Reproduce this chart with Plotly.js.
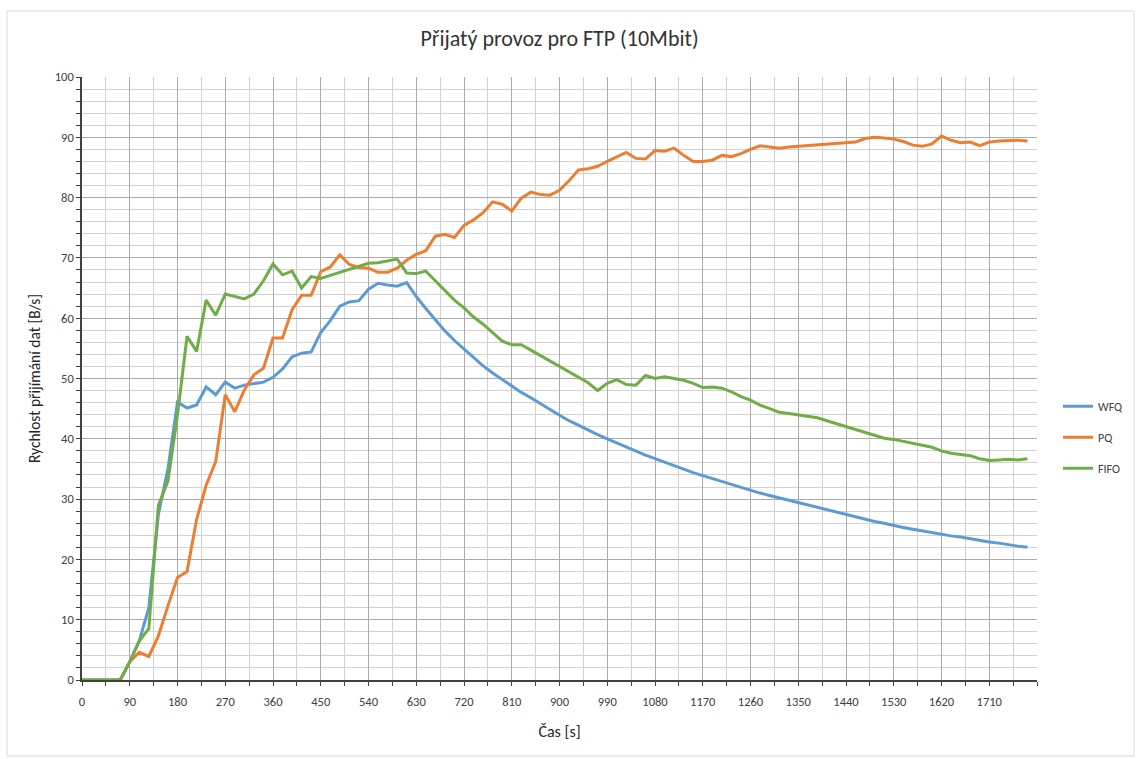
<!DOCTYPE html>
<html>
<head>
<meta charset="utf-8">
<script src="https://cdn.plot.ly/plotly-3.0.1.min.js"></script>
<style>
html,body{margin:0;padding:0;background:#fff;}
#chart{width:1136px;height:759px;}
</style>
</head>
<body>
<div id="chart"></div>
<script>
// Time categories [s]
const time = [0,18,36,54,72,90,108,126,144,162,180,198,216,234,252,270,288,306,324,342,
360,378,396,414,432,450,468,486,504,522,540,558,576,594,612,630,648,666,684,702,
720,738,756,774,792,810,828,846,864,882,900,918,936,954,972,990,1008,1026,1044,1062,
1080,1098,1116,1134,1152,1170,1188,1206,1224,1242,1260,1278,1296,1314,1332,1350,1368,1386,1404,1422,
1440,1458,1476,1494,1512,1530,1548,1566,1584,1602,1620,1638,1656,1674,1692,1710,1728,1746,1764,1782];

const wfq = [0,0,0,0,0,3,6.5,12,27.5,35,46.1,45.1,45.6,48.6,47.3,49.4,48.4,48.9,49.1,49.4,
50.2,51.6,53.6,54.2,54.4,57.6,59.6,62.0,62.7,62.9,64.8,65.8,65.5,65.3,65.9,63.6,61.6,59.7,57.9,56.3,
54.9,53.4,52.1,50.9,49.8,48.7,47.7,46.8,45.8,44.8,43.9,43.0,42.2,41.4,40.7,40.0,39.3,38.6,37.9,37.3,
36.7,36.1,35.5,35.0,34.4,33.9,33.4,32.9,32.4,31.9,31.5,31.0,30.6,30.2,29.8,29.4,29.0,28.6,28.2,27.8,
27.4,27.0,26.7,26.3,26.0,25.6,25.3,25.0,24.7,24.4,24.2,23.9,23.7,23.4,23.2,22.9,22.7,22.4,22.2,22.0];

const pq = [0,0,0,0,0,3,4.6,3.9,7.3,12.3,17,18,26.6,32.3,36.2,47.3,44.5,48.1,50.6,51.7,
56.7,56.7,61.4,63.8,63.8,67.7,68.5,70.5,68.9,68.4,68.3,67.6,67.6,68.3,69.6,70.6,71.2,73.6,73.9,73.4,
75.4,76.3,77.5,79.3,78.9,77.8,79.9,80.9,80.5,80.4,81.2,82.8,84.6,84.8,85.2,86.0,86.7,87.5,86.5,86.4,
87.8,87.7,88.2,87.0,86.0,86.0,86.2,87.0,86.8,87.3,88.0,88.6,88.4,88.2,88.4,88.5,88.7,88.8,88.9,89.0,
89.0,89.2,89.8,90.0,89.9,89.7,89.3,88.7,88.5,88.9,90.2,89.5,89.1,89.2,88.6,89.2,89.4,89.5,89.5,89.4];

const fifo = [0,0,0,0,0,3,6.5,8.5,29,33,44,57,54.5,63,60.5,64,63.6,63.2,64,66.2,
69,67.2,67.8,65,66.9,66.6,67.1,67.6,68.2,68.7,69.1,69.2,69.5,69.8,67.5,67.4,67.8,66.2,64.5,63,
61.7,60.2,59,57.6,56.2,55.6,55.6,54.7,53.8,53.0,52.1,51.2,50.2,49.3,48.0,49.2,49.8,49.0,48.9,50.5,
50.0,50.3,50.0,49.7,49.2,48.5,48.6,48.4,47.8,47.0,46.4,45.6,45.0,44.4,44.2,44.0,43.7,43.5,43.0,42.5,
42.0,41.5,41.0,40.5,40.1,39.9,39.6,39.2,39.0,38.6,38.0,37.6,37.4,37.2,36.7,36.4,36.5,36.6,36.5,36.7];

const seriesNames = ["WFQ", "PQ", "FIFO"];
const xTickLabels = [0,90,180,270,360,450,540,630,720,810,900,990,1080,1170,1260,1350,1440,1530,1620,1710];

const colors = ["#5B9BD5", "#ED7D31", "#70AD47"];
const values = [wfq, pq, fifo];
const FONT = "Carlito, Lato, 'Liberation Sans', sans-serif";

const traces = values.map((v, i) => ({
  type: "scatter",
  mode: "lines",
  x: time,
  y: v,
  name: seriesNames[i],
  legendgroup: seriesNames[i],
  line: {color: colors[i], width: 3},
  hoverinfo: "x+y+name"
}));

const layout = {
  width: 1136,
  height: 759,
  paper_bgcolor: "#ffffff",
  plot_bgcolor: "#ffffff",
  margin: {l: 82, r: 99, t: 77, b: 79, autoexpand: false},
  font: {family: FONT, color: "#404040", size: 12},
  title: {
    text: "Přijatý provoz pro FTP (10Mbit)",
    font: {family: FONT, size: 22, color: "#333333"},
    x: 0.5, xref: "paper", xanchor: "center",
    y: 43, yref: "container", yanchor: "middle"
  },
  xaxis: {
    range: [0, 1800],
    tickmode: "array",
    tickvals: xTickLabels,
    ticktext: xTickLabels.map(String),
    ticks: "outside",
    ticklen: 4,
    tickcolor: "#404040",
    ticklabelstandoff: 5,
    showline: true,
    linecolor: "#404040",
    linewidth: 1.5,
    showgrid: true,
    gridcolor: "#ababab",
    gridwidth: 1,
    zeroline: false,
    tickfont: {family: FONT, size: 12.5, color: "#404040"},
    minor: {dtick: 45, tick0: 0, showgrid: true, gridcolor: "#d2d2d2", ticks: "outside", ticklen: 4, tickcolor: "#404040"},
    title: {text: "Čas [s]", font: {family: FONT, size: 16, color: "#262626"}, standoff: 18}
  },
  yaxis: {
    range: [0, 100],
    dtick: 10,
    tick0: 0,
    ticks: "outside",
    ticklen: 4,
    tickcolor: "#404040",
    showline: true,
    linecolor: "#404040",
    linewidth: 1.5,
    showgrid: true,
    gridcolor: "#ababab",
    zeroline: false,
    tickfont: {family: FONT, size: 12.5, color: "#404040"},
    minor: {dtick: 2, tick0: 0, showgrid: true, gridcolor: "#d2d2d2", ticks: "outside", ticklen: 4, tickcolor: "#404040"},
    title: {text: "Rychlost přijímání dat [B/s]", font: {family: FONT, size: 15.5, color: "#262626"}, standoff: 10}
  },
  legend: {
    x: 1.022, xanchor: "left",
    y: 0.478, yanchor: "top",
    traceorder: "grouped",
    tracegroupgap: 12,
    font: {family: FONT, size: 12, color: "#404040"},
    bgcolor: "rgba(0,0,0,0)"
  },
  showlegend: true,
  shapes: [{
    type: "rect", xref: "paper", yref: "paper",
    x0: (7 - 82) / 955, x1: (1134 - 82) / 955,
    y0: (680 - 756) / 603, y1: (680 - 11) / 603,
    line: {color: "#d9d9d9", width: 1},
    fillcolor: "rgba(0,0,0,0)",
    layer: "below"
  }]
};

Plotly.newPlot("chart", traces, layout, {displayModeBar: false, responsive: false});
</script>
</body>
</html>
